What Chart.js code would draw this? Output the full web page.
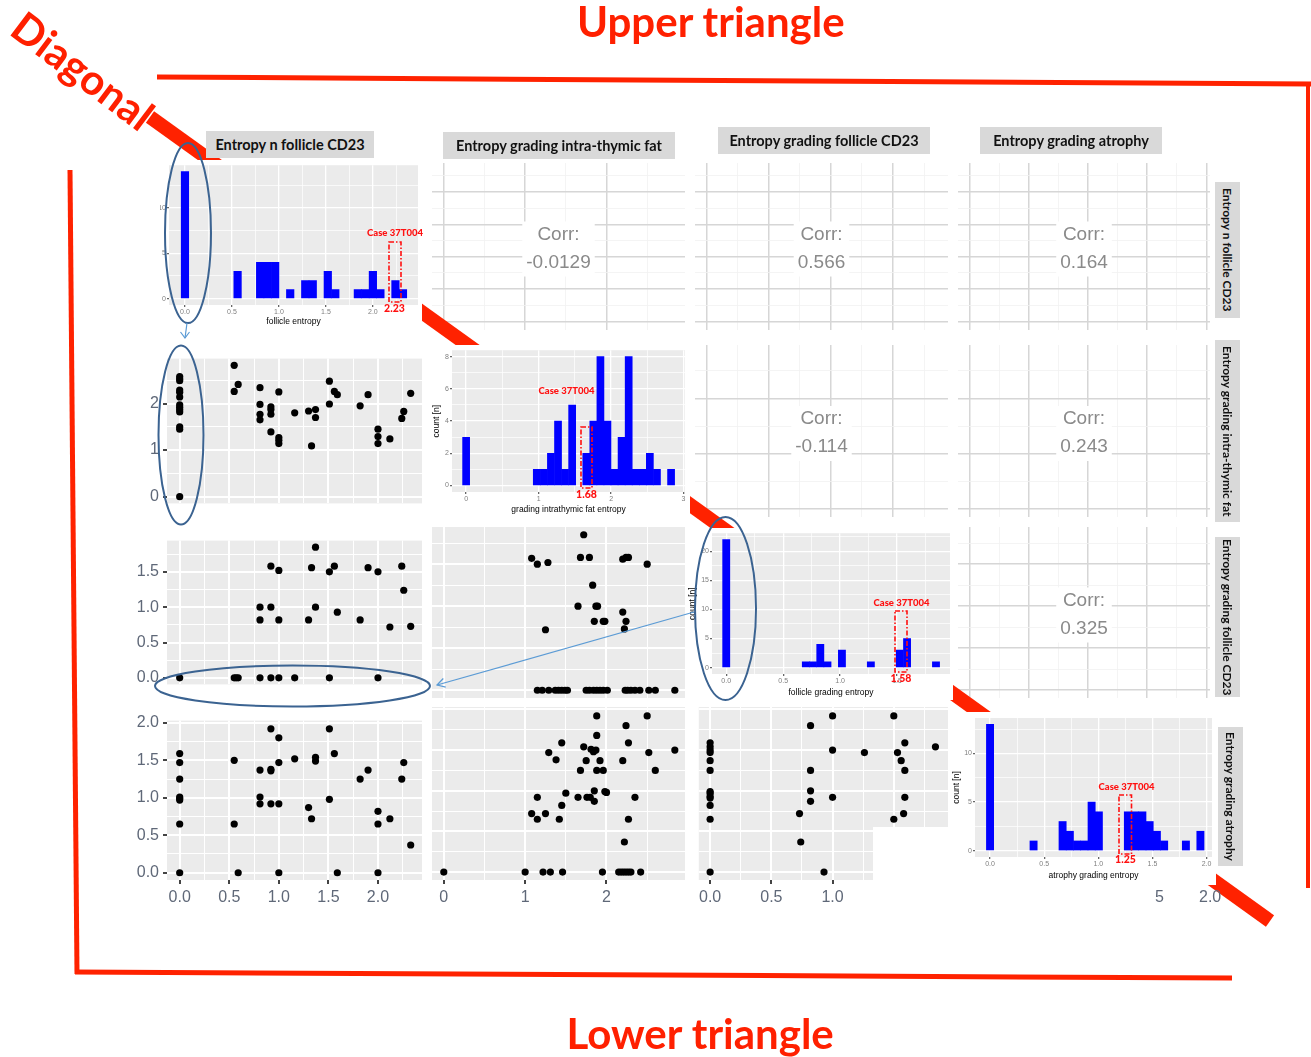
<!DOCTYPE html>
<html>
<head>
<meta charset="utf-8">
<script src="https://cdn.jsdelivr.net/npm/chart.js@4.4.1/dist/chart.umd.min.js"></script>
<style>
  html, body { margin: 0; padding: 0; background: #fff; }
  #page { position: relative; width: 1311px; height: 1057px; overflow: hidden; }
  .strip { position: absolute; background: #D9D9D9; color: #111; font: bold 14.5px Lato, sans-serif;
           display: flex; align-items: center; justify-content: center; white-space: nowrap; z-index: 3; }
  .vstrip { writing-mode: vertical-rl; font-size: 12px; }
  .big { position: absolute; color: #FF2000; font: bold 42px Lato, sans-serif; white-space: nowrap; line-height: 42px; z-index: 5; }
  .rem { position: absolute; color: #5f6878; font: 16px "Liberation Sans", Arial, sans-serif; z-index: 3; }
  svg { position: absolute; left: 0; top: 0; pointer-events: none; }
</style>
</head>
<body>
<div id="page"></div>
<script>
// ---- data: histograms (bin centres + counts) ----
const follicleBins = [0,0.08,0.16,0.24,0.32,0.40,0.48,0.56,0.64,0.72,0.80,0.88,0.96,1.04,1.12,1.20,1.28,1.36,1.44,1.52,1.60,1.68,1.76,1.84,1.92,2.00,2.08,2.16,2.24,2.32];
const follicleCounts = [14,0,0,0,0,0,0,3,0,0,4,4,4,0,1,0,2,2,0,3,1,0,0,1,1,3,1,0,2,1];

const fatBins = [0,0.098,0.195,0.293,0.39,0.488,0.585,0.683,0.78,0.878,0.975,1.073,1.17,1.268,1.365,1.463,1.56,1.658,1.755,1.853,1.95,2.048,2.145,2.243,2.34,2.438,2.535,2.633,2.73,2.828];
const fatCounts = [3,0,0,0,0,0,0,0,0,0,1,1,2,4,1,5,0,2,4,8,4,1,3,8,1,1,2,1,0,1];

const gradingBins = [0,0.064,0.127,0.191,0.254,0.318,0.381,0.445,0.508,0.572,0.635,0.699,0.762,0.826,0.889,0.953,1.016,1.08,1.143,1.207,1.27,1.334,1.397,1.461,1.524,1.588,1.651,1.715,1.778,1.842];
const gradingCounts = [22,0,0,0,0,0,0,0,0,0,0,1,1,4,1,0,3,0,0,0,1,0,0,0,3,5,0,0,0,1];

const atrophyBins = [0,0.067,0.134,0.201,0.268,0.335,0.402,0.469,0.536,0.603,0.67,0.737,0.804,0.871,0.938,1.005,1.072,1.139,1.206,1.273,1.34,1.407,1.474,1.541,1.608,1.675,1.742,1.809,1.876,1.943];
const atrophyCounts = [13,0,0,0,0,0,1,0,0,0,3,2,1,1,5,4,0,0,0,4,4,4,3,2,1,0,0,1,0,2];

// ---- data: scatter panels (row/col) ----
// row 2 col 1: x follicle entropy, y intra-thymic fat
const p21X = [0,0,0,0,0,0,0,0,0,0,0,0,0, 0.55,0.55,0.59, 0.81,0.81,0.81,0.81, 0.92,0.92,0.92,0.92, 1.0,1.0,1.0,1.0, 1.16, 1.30,1.33,1.37,1.37, 1.51,1.51,1.56,1.59, 1.82,1.90, 2.0,2.0,2.0, 2.12, 2.24,2.26,2.33];
const p21Y = [2.58,2.53,2.49,2.29,2.24,2.14,1.97,1.92,1.87,1.82,1.50,1.45,0, 2.82,2.26,2.41, 2.34,1.98,1.77,1.65, 1.93,1.87,1.77,1.39, 2.25,1.27,1.21,1.14, 1.80, 1.84,1.09,1.87,1.70, 2.48,1.99,2.26,2.19, 1.95,2.19, 1.45,1.29,1.14, 1.24, 1.68,1.83,2.22];
// row 3 col 1: x follicle entropy, y follicle grading
const p31X = [0,0.55,0.57,0.59,0.81,0.92,1.0,1.16,1.51,2.0, 0.81,0.81,0.92,0.92,1.0,1.0,1.30,1.33,1.37,1.37,1.51,1.56,1.59,1.82,1.90,2.0,2.12,2.24,2.26,2.33];
const p31Y = [0,0,0,0,0,0,0,0,0,0, 1.0,0.82,1.58,1.0,1.52,0.82,0.82,1.56,1.85,1.0,1.50,1.58,0.93,0.82,1.56,1.50,0.72,1.58,1.24,0.73];
// row 4 col 1: x follicle entropy, y atrophy
const p41X = [0,0,0,0,0,0,0,0, 0.55,0.55,0.59, 0.81,0.81,0.81, 0.92,0.92,0.92,0.92, 1.0,1.0,1.0,1.0, 1.16,1.30,1.33,1.37,1.37, 1.51,1.51,1.56,1.59,1.82,1.90, 2.0,2.0,2.0, 2.12,2.24,2.26,2.33];
const p41Y = [1.59,1.47,1.25,1.01,0.99,0.97,0.65,0, 1.50,0.65,0, 1.37,1.01,0.92, 1.92,1.38,1.36,0.92, 1.80,1.47,0.92,0, 1.52,0.87,0.72,1.54,1.49, 1.92,0.98,1.59,0,1.25,1.37, 0.82,0.65,0, 0.72,1.25,1.47,0.37];
// row 3 col 2: x intra-thymic fat, y follicle grading
const p32X = [1.08,1.15,1.25,1.28,1.68,1.72,1.79,1.65,1.83,1.85,1.87,1.89,1.96,1.98,2.20,2.24,2.27,2.20,2.24,2.22,2.50,
              1.15,1.21,1.29,1.37,1.41,1.45,1.49,1.52,1.75,1.79,1.84,1.88,1.92,1.96,2.01,2.23,2.26,2.30,2.35,2.41,2.52,2.60,2.84];
const p32Y = [1.57,1.50,0.72,1.52,1.58,1.85,1.58,1.0,1.25,0.82,1.0,1.0,0.82,0.82,1.56,1.58,1.58,0.93,0.82,0.73,1.50,
              0,0,0,0,0,0,0,0,0,0,0,0,0,0,0,0,0,0,0,0,0,0,0];
// row 4 col 2: x intra-thymic fat, y atrophy
const p42X = [0,1.0,1.22,1.31,1.46,1.95,2.15,2.18,2.21,2.24,2.27,2.30,2.42,
              1.88,2.50,2.24,1.88,1.45,2.27,1.29,1.72,1.81,1.84,1.87,2.52,2.84,1.38,1.75,1.92,2.20,1.68,1.88,1.96,2.60,
              1.50,1.15,1.65,1.76,1.80,1.85,1.98,2.00,1.85,2.35,1.45,1.08,1.25,1.15,1.42,2.27,2.22];
const p42Y = [0,0,0,0,0,0,0,0,0,0,0,0,0,
              1.92,1.92,1.80,1.68,1.59,1.59,1.47,1.54,1.51,1.48,1.50,1.47,1.50,1.38,1.37,1.37,1.37,1.25,1.25,1.25,1.25,
              0.97,0.92,0.92,0.92,0.92,1.00,0.99,0.98,0.87,0.92,0.82,0.72,0.72,0.65,0.65,0.65,0.37];
// row 4 col 3: x follicle grading, y atrophy
const p43X = [0,0,0,0,0,0,0,0,0,0,0,0,0,
              0.82,1.0,1.50,1.59,1.0,1.26,1.53,1.84,1.56,0.82,1.59,0.82,0.82,1.0,1.59,0.73,1.58,1.50,0.74,0.93];
const p43Y = [1.59,1.54,1.50,1.47,1.37,1.25,0.99,0.97,0.93,0.91,0.82,0.65,0,
              1.80,1.92,1.92,1.59,1.50,1.47,1.47,1.54,1.37,1.25,1.25,1.00,0.87,0.92,0.92,0.72,0.72,0.65,0.37,0];

// ---- labels ----
const varNames = ['Entropy n follicle CD23', 'Entropy grading intra-thymic fat', 'Entropy grading follicle CD23', 'Entropy grading atrophy'];
const corrLabels = { c12: '-0.0129', c13: '0.566', c14: '0.164', c23: '-0.114', c24: '0.243', c34: '0.325' };
const caseLabel = 'Case 37T004';
const caseValues = ['2.23', '1.68', '1.58', '1.25'];

// ---- axis specs ----
const q = [0.25, 0.75, 1.25, 1.75];
const V1 = { min: -0.128, max: 2.444, major: [0, 0.5, 1, 1.5, 2], minor: q.concat([2.25]), dec: 1 };
const V2 = { min: -0.145, max: 2.965, major: [0, 1, 2], minor: [0.5, 1.5, 2.5], dec: 0 };
const V3 = { min: -0.0925, max: 1.9425, major: [0, 0.5, 1, 1.5], minor: q, dec: 1 };
const V4 = { min: -0.097, max: 2.03, major: [0, 0.5, 1, 1.5, 2], minor: q, dec: 1 };
const H1x = { min: -0.17, max: 2.48, major: [0, 0.5, 1, 1.5, 2], minor: q.concat([2.25]), dec: 1 };
const H1y = { min: -0.7, max: 14.7, major: [0, 5, 10], minor: [2.5, 7.5, 12.5], dec: 0 };
const H2x = { min: -0.195, max: 3.02, major: [0, 1, 2, 3], minor: [0.5, 1.5, 2.5], dec: 0 };
const H2y = { min: -0.4, max: 8.4, major: [0, 2, 4, 6, 8], minor: [1, 3, 5, 7], dec: 0 };
const H3x = { min: -0.125, max: 1.965, major: [0, 0.5, 1, 1.5], minor: q, dec: 1 };
const H3y = { min: -1.1, max: 23.1, major: [0, 5, 10, 15, 20], minor: [2.5, 7.5, 12.5, 17.5, 22.5], dec: 0 };
const H4x = { min: -0.139, max: 2.05, major: [0, 0.5, 1, 1.5, 2], minor: q, dec: 1 };
const H4y = { min: -0.65, max: 13.65, major: [0, 5, 10], minor: [2.5, 7.5, 12.5], dec: 0 };

const GRAY = '#EBEBEB';
const BAR_BLUE = '#0000FF';
const page = document.getElementById('page');

const panelBg = {
  id: 'panelBg',
  beforeDraw(chart, args, opts) {
    const { ctx, chartArea: a } = chart;
    ctx.save();
    ctx.fillStyle = opts.color || GRAY;
    ctx.fillRect(a.left, a.top, a.right - a.left, a.bottom - a.top);
    ctx.restore();
  }
};

const corrText = {
  id: 'corrText',
  afterDraw(chart, args, opts) {
    const { ctx, chartArea: a } = chart;
    const cx = (a.left + a.right) / 2, cy = (a.top + a.bottom) / 2;
    ctx.save();
    ctx.font = '19px "Liberation Sans", Arial, sans-serif';
    const w = Math.max(ctx.measureText('Corr:').width, ctx.measureText(opts.value).width) + 8;
    ctx.fillStyle = '#fff';
    ctx.fillRect(cx - w / 2, cy - 25, w, 55);
    ctx.fillStyle = '#8a8a8a';
    ctx.textAlign = 'center';
    ctx.textBaseline = 'middle';
    ctx.fillText('Corr:', cx, cy - 12);
    ctx.fillText(opts.value, cx, cy + 16);
    ctx.restore();
  }
};

function addCanvas(left, top, w, h, z, white) {
  const c = document.createElement('canvas');
  c.width = w; c.height = h;
  c.style.cssText = 'position:absolute;left:' + left + 'px;top:' + top + 'px;width:' + w + 'px;height:' + h + 'px;z-index:' + z + ';' + (white ? 'background:#fff;' : '');
  page.appendChild(c);
  return c;
}

function axis(spec, o) {
  const isMajor = v => spec.major.some(m => Math.abs(m - v) < 1e-9);
  const all = spec.major.concat(spec.minor).sort((a, b) => a - b);
  return {
    type: 'linear',
    position: o.pos,
    min: spec.min, max: spec.max,
    offset: false,
    afterBuildTicks: s => { s.ticks = all.map(v => ({ value: v })); },
    afterFit: s => { if (o.pos === 'left') s.width = o.size; else s.height = o.size; },
    border: { display: false },
    grid: {
      offset: false,
      color: c => (c.tick && isMajor(c.tick.value)) ? o.gridMajor : o.gridMinor,
      lineWidth: c => (c.tick && isMajor(c.tick.value)) ? o.majorW : o.minorW,
      drawTicks: !!o.labels,
      tickLength: o.tickLen || 3,
      tickColor: c => (c.tick && isMajor(c.tick.value)) ? (o.tickColor || '#555') : 'rgba(0,0,0,0)'
    },
    ticks: {
      display: !!o.labels,
      autoSkip: false, maxRotation: 0, minRotation: 0,
      padding: o.pad || 2,
      color: o.color,
      font: { family: '"Liberation Sans", Arial, sans-serif', size: o.fontSize || 7 },
      callback: v => isMajor(v) ? v.toFixed(spec.dec) : ''
    },
    title: o.title ? {
      display: true, text: o.title, color: '#000',
      font: { family: '"Liberation Sans", Arial, sans-serif', size: 8.5 },
      padding: o.titlePad
    } : { display: false }
  };
}

const baseOpts = (pad) => ({
  responsive: false, animation: false, events: [],
  layout: { autoPadding: false, padding: pad },
  plugins: { legend: { display: false }, tooltip: { enabled: false } }
});

// lower triangle scatter panel
function scatterPanel(r, xs, ys, xSpec, ySpec, showX, showY) {
  const L = showY ? 45 : 0, B = showX ? 30 : 0;
  const cv = addCanvas(r.x - L, r.y, r.w + L, r.h + B, 1, false);
  const opts = baseOpts({ left: 0, top: 0, right: 0, bottom: 0 });
  opts.plugins.panelBg = { color: GRAY };
  const txt = { labels: true, fontSize: 16, color: '#5f6878', tickLen: 4, pad: 4, tickColor: '#444',
                gridMajor: '#fff', gridMinor: '#fff', majorW: 2, minorW: 1 };
  opts.scales = {
    x: axis(xSpec, Object.assign({}, txt, { pos: 'bottom', size: B, labels: showX })),
    y: axis(ySpec, Object.assign({}, txt, { pos: 'left', size: L, labels: showY }))
  };
  new Chart(cv, {
    type: 'scatter',
    data: { datasets: [{ data: xs.map((x, i) => ({ x: x, y: ys[i] })), pointRadius: 3.6, pointHoverRadius: 3.6,
                         backgroundColor: '#000', borderWidth: 0 }] },
    options: opts,
    plugins: [panelBg]
  });
}

// upper triangle correlation panel
function corrPanel(r, value, xSpec, ySpec) {
  const cv = addCanvas(r.x, r.y, r.w, r.h, 1, false);
  const opts = baseOpts({ left: 0, top: 0, right: 0, bottom: 0 });
  opts.plugins.panelBg = { color: '#fff' };
  opts.plugins.corrText = { value: value };
  const g = { labels: false, gridMajor: '#d6d6d6', gridMinor: '#f1f1f1', majorW: 1.5, minorW: 0.8 };
  opts.scales = {
    x: axis(xSpec, Object.assign({}, g, { pos: 'bottom', size: 0 })),
    y: axis(ySpec, Object.assign({}, g, { pos: 'left', size: 0 }))
  };
  new Chart(cv, { type: 'scatter', data: { datasets: [{ data: [] }] }, options: opts, plugins: [panelBg, corrText] });
}

// diagonal histogram panel
function histPanel(r, gut, bins, counts, xSpec, ySpec, xTitle, yTitle, xPad, yPad) {
  const cv = addCanvas(r.x - gut.l, r.y - gut.t, r.w + gut.l + gut.r, r.h + gut.t + gut.b, 3, true);
  const opts = baseOpts({ left: 0, top: gut.t, right: gut.r, bottom: 0 });
  opts.plugins.panelBg = { color: GRAY };
  const t = { labels: true, fontSize: 7, color: '#7f7f7f', tickLen: 2, pad: 1, tickColor: '#666',
              gridMajor: '#fff', gridMinor: '#fff', majorW: 1.3, minorW: 0.7 };
  opts.scales = {
    x: axis(xSpec, Object.assign({}, t, { pos: 'bottom', size: gut.b, title: xTitle, titlePad: { top: 0, bottom: xPad } })),
    y: axis(ySpec, Object.assign({}, t, { pos: 'left', size: gut.l, title: yTitle, titlePad: { top: yPad, bottom: 0 } }))
  };
  new Chart(cv, {
    type: 'bar',
    data: { datasets: [{ data: bins.map((b, i) => ({ x: b, y: counts[i] })),
                         backgroundColor: c => (c.raw && c.raw.y > 0) ? BAR_BLUE : 'rgba(0,0,0,0)',
                         borderWidth: 0, barPercentage: 1, categoryPercentage: 1 }] },
    options: opts,
    plugins: [panelBg]
  });
}

// lower triangle
scatterPanel({ x: 167, y: 345, w: 255, h: 172 }, p21X, p21Y, V1, V2, false, true);
scatterPanel({ x: 167, y: 527, w: 255, h: 171 }, p31X, p31Y, V1, V3, false, true);
scatterPanel({ x: 167, y: 707, w: 255, h: 173 }, p41X, p41Y, V1, V4, true, true);
scatterPanel({ x: 432, y: 527, w: 253, h: 171 }, p32X, p32Y, V2, V3, false, false);
scatterPanel({ x: 432, y: 707, w: 253, h: 173 }, p42X, p42Y, V2, V4, true, false);
scatterPanel({ x: 695, y: 707, w: 253, h: 173 }, p43X, p43Y, V3, V4, true, false);

// upper triangle
corrPanel({ x: 432, y: 163, w: 253, h: 167 }, corrLabels.c12, V2, V1);
corrPanel({ x: 695, y: 163, w: 253, h: 167 }, corrLabels.c13, V3, V1);
corrPanel({ x: 958, y: 163, w: 252, h: 167 }, corrLabels.c14, V4, V1);
corrPanel({ x: 695, y: 345, w: 253, h: 172 }, corrLabels.c23, V3, V2);
corrPanel({ x: 958, y: 345, w: 252, h: 172 }, corrLabels.c24, V4, V2);
corrPanel({ x: 958, y: 527, w: 252, h: 171 }, corrLabels.c34, V4, V3);

// diagonal
histPanel({ x: 169, y: 162, w: 249, h: 143 }, { l: 9, t: 2, r: 4, b: 25 }, follicleBins, follicleCounts, H1x, H1y, 'follicle entropy', null, 3, 0);
histPanel({ x: 452, y: 350, w: 233, h: 142 }, { l: 27, t: 5, r: 5, b: 26 }, fatBins, fatCounts, H2x, H2y, 'grading intrathymic fat entropy', 'count [n]', 3, 7);
histPanel({ x: 712, y: 533, w: 238, h: 141 }, { l: 26, t: 5, r: 3, b: 26 }, gradingBins, gradingCounts, H3x, H3y, 'follicle grading entropy', 'count [n]', 2, 2);
histPanel({ x: 975, y: 718, w: 237, h: 139 }, { l: 25, t: 6, r: 4, b: 28 }, atrophyBins, atrophyCounts, H4x, H4y, 'atrophy grading entropy', 'count [n]', 4, 2);

// white patch of the pasted histogram over the last scatter panel
const notch = document.createElement('div');
notch.style.cssText = 'position:absolute;left:873px;top:827px;width:82px;height:85px;background:#fff;z-index:2;';
page.appendChild(notch);

// strips
function strip(text, x, y, w, h, vertical) {
  const d = document.createElement('div');
  d.className = 'strip' + (vertical ? ' vstrip' : '');
  d.style.left = x + 'px'; d.style.top = y + 'px'; d.style.width = w + 'px'; d.style.height = h + 'px';
  d.textContent = text;
  page.appendChild(d);
}
strip(varNames[0], 206, 131, 168, 27);
strip(varNames[1], 443, 132, 232, 27);
strip(varNames[2], 718, 127, 212, 27);
strip(varNames[3], 980, 127, 182, 27);
strip(varNames[0], 1215, 182, 25, 136, true);
strip(varNames[1], 1215, 340, 25, 182, true);
strip(varNames[2], 1215, 537, 25, 160, true);
strip(varNames[3], 1218, 727, 25, 139, true);

// remnants of hidden axis labels
[['5', 1155], ['2.0', 1199]].forEach(function (p) {
  const s = document.createElement('div');
  s.className = 'rem'; s.style.left = p[1] + 'px'; s.style.top = '888px'; s.textContent = p[0];
  page.appendChild(s);
});

// big red texts
function bigText(text, x, y, rot) {
  const d = document.createElement('div');
  d.className = 'big'; d.textContent = text;
  d.style.left = x + 'px'; d.style.top = y + 'px';
  if (rot) { d.style.transformOrigin = '0 0'; d.style.transform = 'rotate(' + rot + 'deg)'; }
  page.appendChild(d);
  return d;
}
const up = bigText('Upper triangle', 0, 0);
up.style.left = (711 - up.offsetWidth / 2) + 'px';
const low = bigText('Lower triangle', 0, 1012);
low.style.left = (700 - low.offsetWidth / 2) + 'px';
bigText('Diagonal', 30, 4, 37);

// red diagonal band (under histograms)
const NS = 'http://www.w3.org/2000/svg';
function svgLayer(z) {
  const s = document.createElementNS(NS, 'svg');
  s.setAttribute('width', 1311); s.setAttribute('height', 1057);
  s.style.zIndex = z;
  page.appendChild(s);
  return s;
}
function el(parent, tag, attrs, text) {
  const e = document.createElementNS(NS, tag);
  for (const k in attrs) e.setAttribute(k, attrs[k]);
  if (text) e.textContent = text;
  parent.appendChild(e);
  return e;
}
const band = svgLayer(2);
el(band, 'line', { x1: 150, y1: 117, x2: 1270, y2: 921, stroke: '#FF2200', 'stroke-width': 14 });

const deco = svgLayer(5);
// red frame lines
el(deco, 'line', { x1: 157, y1: 77, x2: 1311, y2: 84, stroke: '#FF2200', 'stroke-width': 5 });
el(deco, 'line', { x1: 1308, y1: 82, x2: 1308, y2: 888, stroke: '#FF2200', 'stroke-width': 4 });
el(deco, 'line', { x1: 70, y1: 170, x2: 77, y2: 974, stroke: '#FF2200', 'stroke-width': 5 });
el(deco, 'line', { x1: 75, y1: 972, x2: 1232, y2: 978, stroke: '#FF2200', 'stroke-width': 5 });

// blue ellipses and arrows
const blue = '#3B6391';
el(deco, 'ellipse', { cx: 188, cy: 233, rx: 23, ry: 90, fill: 'none', stroke: blue, 'stroke-width': 2 });
el(deco, 'ellipse', { cx: 181, cy: 435, rx: 22.5, ry: 89.5, fill: 'none', stroke: blue, 'stroke-width': 2 });
el(deco, 'ellipse', { cx: 725.5, cy: 608.5, rx: 30.5, ry: 91.5, fill: 'none', stroke: blue, 'stroke-width': 2 });
el(deco, 'ellipse', { cx: 292.5, cy: 686, rx: 137.5, ry: 20.5, fill: 'none', stroke: blue, 'stroke-width': 2 });
const light = '#5B9BD5';
el(deco, 'line', { x1: 187, y1: 323, x2: 185, y2: 338, stroke: light, 'stroke-width': 1.2 });
el(deco, 'polyline', { points: '180.5,332 185,338 189.5,332', fill: 'none', stroke: light, 'stroke-width': 1.2 });
el(deco, 'line', { x1: 694, y1: 612, x2: 437, y2: 685, stroke: light, 'stroke-width': 1.2 });
el(deco, 'polyline', { points: '445.7,687.2 437,685 443.3,678.5', fill: 'none', stroke: light, 'stroke-width': 1.2 });

// case 37T004 markers
const cases = [
  { lx: 395, ly: 234, box: [389, 242, 12, 60], vx: 394.5, vy: 309 },
  { lx: 566.5, ly: 392, box: [581, 427, 11, 61], vx: 586.5, vy: 495 },
  { lx: 901.5, ly: 604, box: [895, 611, 12, 61], vx: 901, vy: 679 },
  { lx: 1126.5, ly: 788, box: [1119, 795, 12.5, 59], vx: 1125.5, vy: 860 }
];
cases.forEach(function (c, i) {
  el(deco, 'text', { x: c.lx, y: c.ly, fill: '#FF1010', 'font-family': 'Lato, sans-serif', 'font-weight': 900,
                     'font-size': 9.5, 'text-anchor': 'middle', 'dominant-baseline': 'middle' }, caseLabel);
  el(deco, 'rect', { x: c.box[0], y: c.box[1], width: c.box[2], height: c.box[3], fill: 'none', stroke: '#FF1010',
                     'stroke-width': 1.6, 'stroke-dasharray': '5 2 1.5 2' });
  el(deco, 'text', { x: c.vx, y: c.vy, fill: '#FF1010', 'font-family': 'Lato, sans-serif', 'font-weight': 900,
                     'font-size': 10.5, 'text-anchor': 'middle', 'dominant-baseline': 'middle' }, caseValues[i]);
});
</script>
</body>
</html>
